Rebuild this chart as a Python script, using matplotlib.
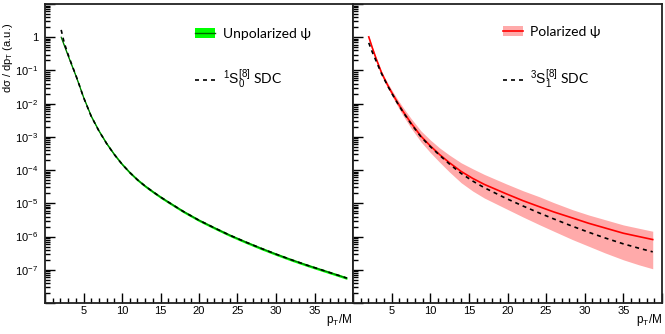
import numpy as np
import matplotlib
matplotlib.use("Agg")
import matplotlib.pyplot as plt
from matplotlib.ticker import MultipleLocator, LogLocator, FuncFormatter, NullFormatter
from matplotlib.patches import Patch
from matplotlib.lines import Line2D

plt.rcParams['font.family'] = ['Liberation Sans', 'DejaVu Sans']
plt.rcParams['mathtext.fontset'] = 'custom'
plt.rcParams['mathtext.rm'] = 'Liberation Sans'
plt.rcParams['mathtext.it'] = 'Liberation Sans:italic'
plt.rcParams['mathtext.bf'] = 'Liberation Sans:bold'

# values, as log10 of dsigma/dpT
pt_unpol = [2.1, 2.5, 3.0, 3.5, 4.0, 4.5, 5.0, 6.0, 7.0, 8.0, 9.0, 10.0, 11.0, 12.0, 13.0,
            14.0, 15.0, 16.0, 18.0, 20.0, 22.0, 24.0, 26.0, 28.0, 30.0, 32.0, 34.0, 36.0, 38.0, 39.2]
unpol_mid = [0.0, -0.25, -0.56, -0.86, -1.16, -1.48, -1.81, -2.38, -2.82, -3.2, -3.53, -3.82, -4.07, -4.29, -4.48,
             -4.65, -4.81, -4.96, -5.25, -5.51, -5.74, -5.96, -6.16, -6.35, -6.53, -6.7, -6.86, -7.01, -7.16, -7.25]
unpol_hi = [0.04, -0.21, -0.52, -0.82, -1.12, -1.44, -1.77, -2.34, -2.78, -3.16, -3.49, -3.78, -4.03, -4.25, -4.44,
            -4.61, -4.77, -4.92, -5.21, -5.47, -5.7, -5.92, -6.12, -6.31, -6.49, -6.66, -6.82, -6.97, -7.12, -7.21]
unpol_lo = [-0.04, -0.29, -0.6, -0.9, -1.2, -1.52, -1.85, -2.42, -2.86, -3.24, -3.57, -3.86, -4.11, -4.33, -4.52,
            -4.69, -4.85, -5.0, -5.29, -5.55, -5.78, -6.0, -6.2, -6.39, -6.57, -6.74, -6.9, -7.05, -7.2, -7.29]
s0_sdc = [0.22, -0.17, -0.52, -0.84, -1.14, -1.47, -1.81, -2.38, -2.82, -3.2, -3.53, -3.82, -4.07, -4.29, -4.48,
          -4.65, -4.81, -4.96, -5.25, -5.51, -5.74, -5.96, -6.16, -6.35, -6.53, -6.7, -6.86, -7.01, -7.16, -7.25]

pt_pol = [2.04, 2.5, 3.0, 3.66, 4.0, 4.5, 5.0, 5.8, 6.5, 7.5, 8.8, 10.0, 11.2, 12.5, 14.0,
          15.5, 17.0, 19.8, 22.0, 24.1, 26.0, 28.4, 30.5, 32.6, 35.0, 37.0, 38.8]
pol_mid = [0.01, -0.32, -0.65, -1.05, -1.22, -1.45, -1.66, -1.98, -2.24, -2.58, -2.98, -3.27, -3.53, -3.78, -4.04,
           -4.25, -4.43, -4.71, -4.92, -5.1, -5.26, -5.44, -5.6, -5.74, -5.9, -6.0, -6.09]
pol_hi = [0.03, -0.29, -0.61, -1.0, -1.16, -1.38, -1.58, -1.88, -2.12, -2.44, -2.82, -3.09, -3.33, -3.55, -3.78,
          -3.96, -4.13, -4.41, -4.62, -4.8, -4.98, -5.19, -5.35, -5.49, -5.65, -5.75, -5.84]
pol_lo = [-0.01, -0.35, -0.69, -1.1, -1.28, -1.52, -1.75, -2.09, -2.37, -2.73, -3.15, -3.47, -3.76, -4.06, -4.38,
          -4.63, -4.84, -5.16, -5.41, -5.64, -5.84, -6.09, -6.29, -6.49, -6.7, -6.85, -6.97]
s1_sdc = [-0.17, -0.45, -0.72, -1.08, -1.24, -1.47, -1.68, -2.0, -2.26, -2.6, -3.0, -3.29, -3.55, -3.82, -4.1,
          -4.33, -4.53, -4.85, -5.08, -5.29, -5.47, -5.69, -5.87, -6.04, -6.22, -6.35, -6.46]

xticks = [5, 10, 15, 20, 25, 30, 35]


def ylab(v, pos):
    e = int(round(np.log10(v)))
    if e == 0:
        return "1"
    if -7 <= e <= -1:
        return "$10^{%d}$" % e
    return ""


fig = plt.figure(figsize=(6.65, 3.34), dpi=100)
axL = fig.add_axes([45/665, 1-303/334, 308/665, 299/334])
axR = fig.add_axes([353/665, 1-303/334, 309/665, 299/334])

for ax in (axL, axR):
    ax.set_yscale('log')
    ax.set_xlim(0, 40)
    ax.set_ylim(1e-8, 1e1)
    ax.xaxis.set_major_locator(MultipleLocator(5))
    ax.xaxis.set_minor_locator(MultipleLocator(1))
    ax.xaxis.set_major_formatter(FuncFormatter(lambda v, p: "%d" % v if int(round(v)) in xticks else ""))
    ax.yaxis.set_major_locator(LogLocator(base=10, numticks=20))
    ax.yaxis.set_minor_locator(LogLocator(base=10, subs=np.arange(2, 10), numticks=20))
    ax.yaxis.set_minor_formatter(NullFormatter())
    ax.tick_params(which='both', direction='in', top=False, right=False, width=1, labelsize=8)
    ax.tick_params(which='major', length=7)
    ax.tick_params(which='minor', length=3.5)
    ax.tick_params(axis='x', pad=2)
    ax.tick_params(axis='y', pad=5)
    for s in ax.spines.values():
        s.set_linewidth(1.3)
        s.set_color('#222222')

axL.yaxis.set_major_formatter(FuncFormatter(ylab))
axR.yaxis.set_major_formatter(NullFormatter())

# left panel
axL.fill_between(pt_unpol, 10**np.array(unpol_lo), 10**np.array(unpol_hi), color='#00ff00', lw=0)
axL.plot(pt_unpol, 10**np.array(unpol_mid), color='#006600', lw=0.8)
axL.plot(pt_unpol, 10**np.array(s0_sdc), color='black', lw=1.2, dashes=(2.4, 2.4))

# right panel
axR.fill_between(pt_pol, 10**np.array(pol_lo), 10**np.array(pol_hi), color='#ffaaaa', lw=0)
axR.plot(pt_pol, 10**np.array(pol_mid), color='#ff0000', lw=1.2)
axR.plot(pt_pol, 10**np.array(s1_sdc), color='black', lw=1.2, dashes=(2.4, 2.4))

legfont = {'family': ['Lato', 'DejaVu Sans'], 'size': 10}
hL = [(Patch(facecolor='#00ff00', edgecolor='none'), Line2D([], [], color='#006600', lw=1)),
      Line2D([], [], color='black', lw=1.2, dashes=(2.4, 2.4))]
axL.legend(hL, ["Unpolarized ψ", r"$^{1}\mathrm{S}_{0}^{[8]}$ SDC"], loc='upper left',
           bbox_to_anchor=(0.487, 0.921), frameon=False, borderpad=0, borderaxespad=0,
           handlelength=1.45, handleheight=0.7, handletextpad=0.55, labelspacing=2.05, prop=legfont)
hR = [(Patch(facecolor='#ffaaaa', edgecolor='none'), Line2D([], [], color='#ff0000', lw=1.2)),
      Line2D([], [], color='black', lw=1.2, dashes=(2.4, 2.4))]
axR.legend(hR, ["Polarized ψ", r"$^{3}\mathrm{S}_{1}^{[8]}$ SDC"], loc='upper left',
           bbox_to_anchor=(0.484, 0.928), frameon=False, borderpad=0, borderaxespad=0,
           handlelength=1.45, handleheight=0.8, handletextpad=0.55, labelspacing=2.2, prop=legfont)

fig.text(8.5/665, 1-23/334, "dσ / dp$_{\\mathrm{T}}$ (a.u.)", rotation=90, ha='center', va='top', fontsize=8)
fig.text(352/665, 1-323/334, "p$_{\\mathrm{T}}$/M", ha='right', va='baseline', fontsize=8.5)
fig.text(662/665, 1-323/334, "p$_{\\mathrm{T}}$/M", ha='right', va='baseline', fontsize=8.5)

fig.savefig("out.png", dpi=100)
